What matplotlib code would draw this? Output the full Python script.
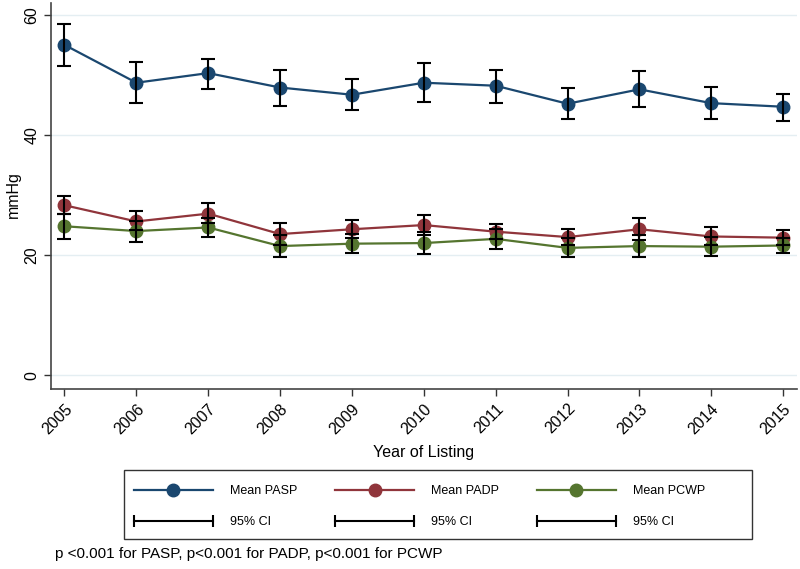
import numpy as np
import matplotlib
matplotlib.use("Agg")
import matplotlib.pyplot as plt
from matplotlib.lines import Line2D
from matplotlib.patches import Rectangle
from matplotlib.legend_handler import HandlerLine2D

plt.rcParams['font.family'] = ['Liberation Sans', 'DejaVu Sans']

years = [2005, 2006, 2007, 2008, 2009, 2010, 2011, 2012, 2013, 2014, 2015]

pasp = [55.0, 48.7, 50.3, 47.9, 46.7, 48.7, 48.2, 45.2, 47.6, 45.3, 44.7]
pasp_lo = [51.5, 45.4, 47.6, 44.9, 44.2, 45.5, 45.4, 42.6, 44.6, 42.6, 42.4]
pasp_hi = [58.4, 52.1, 52.7, 50.8, 49.3, 52.0, 50.8, 47.9, 50.6, 48.0, 46.9]

padp = [28.3, 25.6, 26.9, 23.5, 24.3, 25.0, 23.9, 23.0, 24.3, 23.1, 22.9]
padp_lo = [26.8, 24.1, 25.3, 21.6, 22.8, 23.4, 22.6, 21.7, 22.5, 21.6, 21.7]
padp_hi = [29.8, 27.3, 28.6, 25.4, 25.8, 26.7, 25.2, 24.4, 26.2, 24.7, 24.2]

pcwp = [24.8, 24.0, 24.6, 21.5, 21.9, 22.0, 22.7, 21.2, 21.5, 21.4, 21.6]
pcwp_lo = [22.6, 22.2, 23.0, 19.7, 20.3, 20.2, 21.0, 19.6, 19.7, 19.8, 20.4]
pcwp_hi = [26.9, 25.7, 26.2, 23.3, 23.5, 23.8, 24.4, 22.8, 23.3, 23.0, 22.8]

series = [
    ("Mean PASP", pasp, pasp_lo, pasp_hi, "#1a476f"),
    ("Mean PADP", padp, padp_lo, padp_hi, "#90353b"),
    ("Mean PCWP", pcwp, pcwp_lo, pcwp_hi, "#55752f"),
]

W, H = 800, 569
fig = plt.figure(figsize=(8, 5.69), dpi=100)
ax = fig.add_axes([0.064, 0.316, 0.932, 0.679])

for y in [0, 20, 40, 60]:
    ax.axhline(y, color="#e4eef2", lw=1, zorder=0)

handles = []
for name, m, lo, hi, col in series:
    m = np.array(m)
    err = [m - np.array(lo), np.array(hi) - m]
    ln, = ax.plot(years, m, color=col, lw=1.6, marker="o", markersize=9,
                  markeredgecolor=col, zorder=3)
    ax.errorbar(years, m, yerr=err, fmt="none", ecolor="black", elinewidth=1.5,
                capsize=5, capthick=1.5, zorder=4)
    handles.append(ln)

ax.set_xlim(2004.815, 2015.19)
ax.set_ylim(-2.33, 62)
ax.set_xticks(years)
ax.set_xticklabels([str(y) for y in years], rotation=45, ha="right",
                   rotation_mode="anchor")
ax.set_yticks([0, 20, 40, 60])
ax.set_yticklabels(["0", "20", "40", "60"], rotation=90, va="center")
ax.tick_params(axis="both", labelsize=11.5, length=5, width=1, color="#333333")
for s in ["top", "right"]:
    ax.spines[s].set_visible(False)
for s in ["left", "bottom"]:
    ax.spines[s].set_color("#444444")
    ax.spines[s].set_linewidth(1.2)
ax.set_xlabel("Year of Listing", fontsize=11.5, labelpad=6)
fig.text(13 / W, 1 - 195 / H, "mmHg", fontsize=11.5, rotation=90,
         ha="center", va="center")

# legend: frame drawn separately, entries anchored at top-left
fig.patches.append(Rectangle((124 / W, 1 - 539 / H), 628 / W, 69 / H,
                             transform=fig.transFigure, fill=False,
                             edgecolor="#333333", lw=1.0))
ci = Line2D([0], [0], color="black", lw=1.5, marker="|", markersize=8,
            markeredgewidth=1.5)
leg_handles = [handles[0], ci, handles[1], ci, handles[2], ci]
leg_labels = ["Mean PASP", "95% CI", "Mean PADP", "95% CI", "Mean PCWP", "95% CI"]
leg = fig.legend(leg_handles, leg_labels, ncol=3, loc="upper left",
                 bbox_to_anchor=(134 / W, 1 - 485 / H),
                 fontsize=9, handlelength=6.3, handletextpad=1.4,
                 columnspacing=3.0, labelspacing=1.55, frameon=False,
                 borderpad=0, borderaxespad=0,
                 handler_map={ci: HandlerLine2D(numpoints=2, marker_pad=0)})

fig.text(55 / W, 1 - 554 / H,
         "p <0.001 for PASP, p<0.001 for PADP, p<0.001 for PCWP",
         fontsize=11, va="center", ha="left")

fig.savefig("out.png", dpi=100)
